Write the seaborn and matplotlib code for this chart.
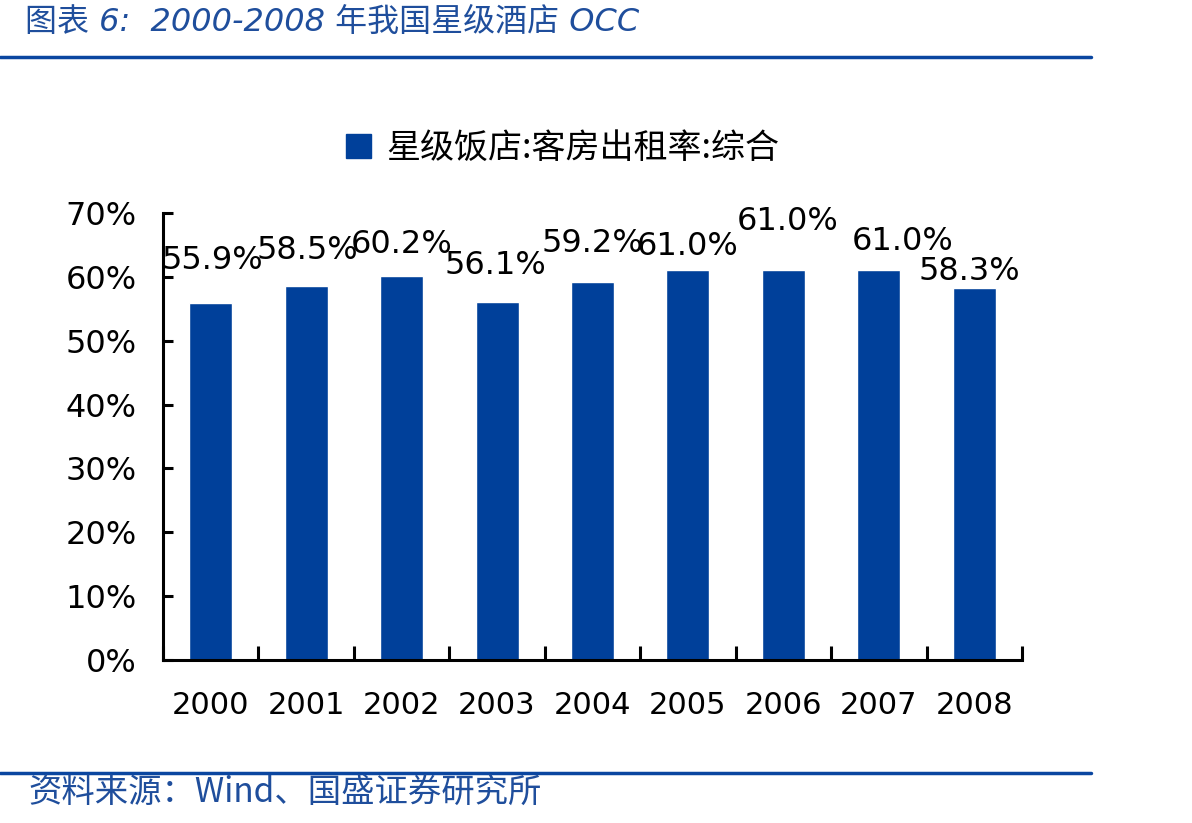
import matplotlib
matplotlib.use('Agg')
import matplotlib.pyplot as plt
import seaborn as sns
from matplotlib.patches import Patch
from matplotlib.lines import Line2D

# data: occupancy rate of star hotels, percent
years = ['2000', '2001', '2002', '2003', '2004', '2005', '2006', '2007', '2008']
occ = [55.9, 58.5, 60.2, 56.1, 59.2, 61.0, 61.0, 61.0, 58.3]
series_name = '星级饭店:客房出租率:综合'

# label nudges (category units, percent) to follow the original layout
label_dx = [0.02, 0.01, 0.0, -0.02, 0.0, 0.0, 0.04, 0.25, -0.05]
label_dy = [6.7, 5.7, 4.8, 5.7, 6.0, 3.8, 7.6, 4.5, 2.5]

blue = '#00409A'

sns.set_style('white')
plt.rcParams['font.family'] = ['DejaVu Sans', 'Noto Sans CJK SC']
plt.rcParams['text.color'] = 'black'
plt.rcParams['xtick.color'] = 'black'
plt.rcParams['ytick.color'] = 'black'

fig = plt.figure(figsize=(11.92, 8.23), dpi=100)
ax = fig.add_axes([0.1367, 0.198, 0.7207, 0.5432])

sns.barplot(x=years, y=occ, color=blue, width=0.45, saturation=1, ax=ax)

ax.set_xlim(-0.5, len(years) - 0.5)
ax.set_ylim(0, 70)
ax.set_yticks(range(0, 71, 10))
ax.set_yticklabels([f'{v}%' for v in range(0, 71, 10)], fontsize=23)
ax.tick_params(axis='y', left=True, direction='in', length=7, width=2.2, pad=19)
ax.tick_params(axis='x', which='major', bottom=True, length=0, labelsize=22, pad=22)
ax.set_xticks([i - 0.5 for i in range(len(years) + 1)], minor=True)
ax.tick_params(axis='x', which='minor', bottom=True, direction='in', length=10, width=2.2)
ax.set_xlabel('')
ax.set_ylabel('')

for s in ['top', 'right']:
    ax.spines[s].set_visible(False)
for s in ['left', 'bottom']:
    ax.spines[s].set_linewidth(2.2)
    ax.spines[s].set_color('black')

for i, v in enumerate(occ):
    ax.text(i + label_dx[i], v + label_dy[i], f'{v:.1f}%', ha='center', va='center',
            fontsize=23, color='black')

# legend above the plot
handle = Patch(facecolor=blue, edgecolor=blue)
fig.legend([handle], [series_name], loc='center', bbox_to_anchor=(0.472, 0.82),
           frameon=False, handlelength=0.72, handleheight=0.72,
           handletextpad=0.45, prop={'family': ['Noto Sans CJK SC'], 'size': 24.5})

# header and footer
fig.text(0.021, 0.973, '图表 6:  2000-2008 年我国星级酒店 OCC', ha='left', va='center',
         fontsize=23, color='#1F4E9C', style='italic',
         family=['DejaVu Sans', 'Noto Sans CJK SC'])
fig.add_artist(Line2D([0, 0.915], [0.931, 0.931], color='#0A46A0', linewidth=2.5,
                      transform=fig.transFigure))
fig.add_artist(Line2D([0, 0.915], [0.061, 0.061], color='#0A46A0', linewidth=2.5,
                      transform=fig.transFigure))
fig.text(0.024, 0.037, '资料来源：Wind、国盛证券研究所', ha='left', va='center',
         fontsize=24, color='#1F4E9C', style='italic',
         family=['Noto Sans CJK SC', 'DejaVu Sans'])

fig.savefig('out.png', dpi=100)
